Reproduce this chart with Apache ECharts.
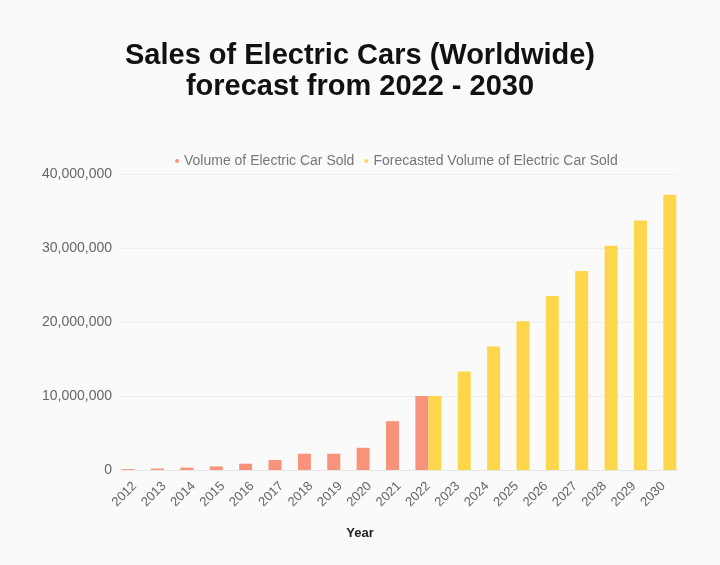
<!DOCTYPE html>
<html>
<head>
<meta charset="utf-8">
<script src="https://cdn.jsdelivr.net/npm/echarts@6/dist/echarts.min.js"></script>
<style>
  html, body { margin: 0; padding: 0; background: #fafafa; }
  #chart { width: 720px; height: 565px; }
</style>
</head>
<body>
<div id="chart"></div>
<script>
const years = ['2012', '2013', '2014', '2015', '2016', '2017', '2018', '2019', '2020', '2021',
  '2022', '2023', '2024', '2025', '2026', '2027', '2028', '2029', '2030'];

// actual sales up to 2022, nothing after
const soldVolume = [120000, 200000, 320000, 480000, 850000, 1350000, 2200000, 2200000, 3000000, 6600000,
  10000000, null, null, null, null, null, null, null, null];

// forecast from 2022 on
const forecastVolume = [null, null, null, null, null, null, null, null, null, null,
  10000000, 13300000, 16700000, 20100000, 23500000, 26900000, 30300000, 33700000, 37200000];

const yTicks = [0, 10000000, 20000000, 30000000, 40000000];

const chart = echarts.init(document.getElementById('chart'));

chart.setOption({
  backgroundColor: '#fafafa',
  title: {
    text: 'Sales of Electric Cars (Worldwide)\nforecast from 2022 - 2030',
    left: 'center',
    top: 35,
    textStyle: {
      fontFamily: 'Liberation Sans',
      fontSize: 29,
      fontWeight: 'bold',
      color: '#111',
      lineHeight: 31
    }
  },
  legend: {
    top: 149,
    left: 170,
    icon: 'circle',
    itemWidth: 4,
    itemHeight: 4,
    itemGap: 10,
    textStyle: { fontFamily: 'Liberation Sans', fontSize: 14, color: '#777' },
    data: ['Volume of Electric Car Sold', 'Forecasted Volume of Electric Car Sold']
  },
  grid: { left: 120, right: 42, top: 174, bottom: 95 },
  xAxis: {
    type: 'category',
    data: years,
    axisTick: { show: false },
    axisLine: { lineStyle: { color: '#e6e6e6' } },
    axisLabel: {
      rotate: 45,
      fontFamily: 'Liberation Sans',
      fontSize: 13,
      color: '#666',
      margin: 14
    },
    name: 'Year',
    nameLocation: 'middle',
    nameGap: 57,
    nameTextStyle: {
      fontFamily: 'Liberation Sans',
      fontSize: 13,
      fontWeight: 'bold',
      color: '#222',
      padding: [0, 78, 0, 0]
    }
  },
  yAxis: {
    type: 'value',
    min: yTicks[0],
    max: yTicks[yTicks.length - 1],
    interval: yTicks[1] - yTicks[0],
    axisLabel: {
      fontFamily: 'Liberation Sans',
      fontSize: 14,
      color: '#666',
      margin: 8,
      formatter: v => v.toLocaleString('en-US')
    },
    splitLine: { lineStyle: { color: '#eeeeee' } }
  },
  series: [
    {
      name: 'Volume of Electric Car Sold',
      type: 'bar',
      data: soldVolume,
      barWidth: 13,
      barGap: '0%',
      itemStyle: { color: '#f7937a' }
    },
    {
      name: 'Forecasted Volume of Electric Car Sold',
      type: 'bar',
      data: forecastVolume,
      barWidth: 13,
      barGap: '0%',
      itemStyle: { color: '#fdd64c' }
    }
  ]
});
</script>
</body>
</html>
